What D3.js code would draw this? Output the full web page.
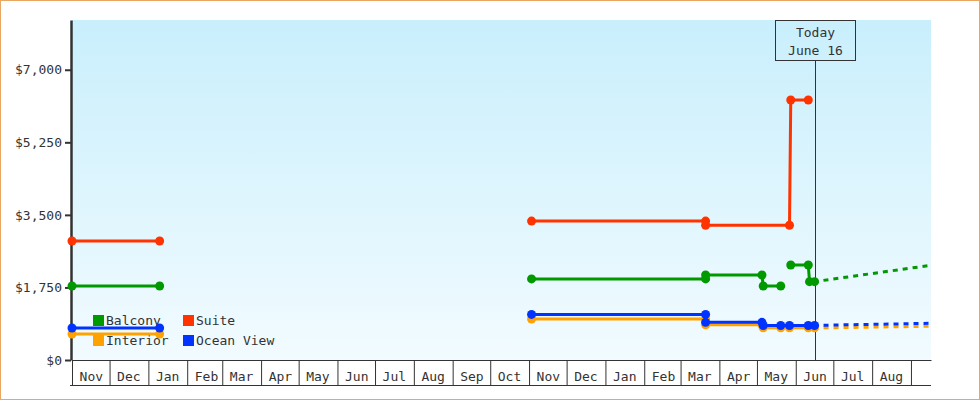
<!DOCTYPE html>
<html>

<head>
  <meta charset="utf-8">
  <script src="https://d3js.org/d3.v7.min.js"></script>

  <style>
    body {
      margin: 0;
      background: #fff;
    }

    text {
      font-family: "DejaVu Sans Mono", monospace;
      font-size: 13px;
      fill: #333;
    }

    .axis path,
    .axis line {
      stroke: #333;
    }

    .line {
      fill: none;
      stroke-width: 3;
    }

    .forecast {
      stroke-dasharray: 5, 5;
      stroke-dashoffset: 1;
    }
  </style>
</head>

<body>
  <script type="text/javascript">
    // series, legend order
    var seriesNames = ["Balcony", "Suite", "Interior", "Ocean View"];
    var seriesColors = ["#009900", "#ff3300", "#ffa200", "#0033ff"];
    // drawing order (later on top)
    var drawOrder = ["Suite", "Balcony", "Interior", "Ocean View"];

    // price history: [date, price], null = gap
    var balcony = [["2022-11-01", 1785], ["2023-01-10", 1785], null,
      ["2023-11-03", 1955], ["2024-03-21", 1955], ["2024-03-21", 2050], ["2024-05-05", 2050],
      ["2024-05-06", 1785], ["2024-05-20", 1785], null,
      ["2024-05-28", 2290], ["2024-06-11", 2290], ["2024-06-12", 1890], ["2024-06-16", 1890]];
    var suite = [["2022-11-01", 2870], ["2023-01-10", 2870], null,
      ["2023-11-03", 3350], ["2024-03-21", 3350], ["2024-03-21", 3250], ["2024-05-27", 3250],
      ["2024-05-28", 6270], ["2024-06-11", 6270]];
    var interior = [["2022-11-01", 627], ["2023-01-10", 627], null,
      ["2023-11-03", 989], ["2024-03-21", 989], ["2024-03-21", 851], ["2024-05-05", 851],
      ["2024-05-06", 775], ["2024-05-20", 775], ["2024-05-27", 775], ["2024-06-11", 775], ["2024-06-16", 775]];
    var oceanView = [["2022-11-01", 772], ["2023-01-10", 772], null,
      ["2023-11-03", 1100], ["2024-03-21", 1100], ["2024-03-21", 909], ["2024-05-05", 909],
      ["2024-05-06", 832], ["2024-05-20", 832], ["2024-05-27", 832], ["2024-06-11", 832], ["2024-06-16", 832]];

    // forecast after today
    var balconyForecast = [["2024-06-16", 1890], ["2024-09-17", 2285]];
    var suiteForecast = [];
    var interiorForecast = [["2024-06-16", 772], ["2024-09-17", 815]];
    var oceanViewForecast = [["2024-06-16", 835], ["2024-09-17", 885]];

    var monthTicks = ["2022-11", "2022-12", "2023-01", "2023-02", "2023-03", "2023-04", "2023-05",
      "2023-06", "2023-07", "2023-08", "2023-09", "2023-10", "2023-11", "2023-12", "2024-01",
      "2024-02", "2024-03", "2024-04", "2024-05", "2024-06", "2024-07", "2024-08"];
    var yTicks = [0, 1750, 3500, 5250, 7000];
    var todayDate = "2024-06-16";
    var todayLabel = ["Today", "June 16"];

    var priceHistory = {
      "Balcony": balcony, "Suite": suite, "Interior": interior, "Ocean View": oceanView
    };
    var priceForecast = {
      "Balcony": balconyForecast, "Suite": suiteForecast,
      "Interior": interiorForecast, "Ocean View": oceanViewForecast
    };

    var width = 980,
      height = 400;
    var plotLeft = 72,
      plotRight = 931,
      plotTop = 20,
      plotBottom = 360;

    var parseDay = d3.timeParse("%Y-%m-%d");
    var parseMonth = d3.timeParse("%Y-%m");

    var svg = d3.select("body")
      .append("svg")
      .attr("width", width)
      .attr("height", height);

    // outer frame
    svg.append("rect")
      .attr("x", 0.5).attr("y", 0.5)
      .attr("width", width - 1).attr("height", height - 1)
      .attr("fill", "#fff")
      .attr("stroke", "#e8a864");

    var grad = svg.append("defs").append("linearGradient")
      .attr("id", "bg").attr("x1", 0).attr("y1", 0).attr("x2", 0).attr("y2", 1);
    grad.append("stop").attr("offset", "0%").attr("stop-color", "#c9effc");
    grad.append("stop").attr("offset", "100%").attr("stop-color", "#f2fbff");

    var x = d3.scaleTime()
      .domain([parseDay("2022-11-01"), parseDay("2024-09-17")])
      .range([plotLeft, plotRight]);

    var y = d3.scaleLinear()
      .domain([0, 8200])
      .range([plotBottom, plotTop]);

    svg.append("rect")
      .attr("x", plotLeft).attr("y", plotTop)
      .attr("width", plotRight - plotLeft).attr("height", plotBottom - plotTop)
      .attr("fill", "url(#bg)");

    // x axis: month boxes
    var months = monthTicks.map(parseMonth);
    var bounds = months.concat([d3.timeMonth.offset(months[months.length - 1], 1)]);

    svg.append("g")
      .attr("class", "axis")
      .attr("transform", "translate(0," + plotBottom + ")")
      .call(d3.axisBottom(x).tickValues(bounds).tickSize(25).tickSizeOuter(0).tickFormat(""));

    svg.append("g")
      .attr("class", "axis")
      .attr("transform", "translate(0," + (plotBottom + 25) + ")")
      .call(d3.axisBottom(x).tickValues([]).tickSizeOuter(0))
      .select(".domain").attr("d", "M" + (plotLeft - 2) + ",0.5H" + plotRight);

    svg.append("g")
      .attr("class", "axis months")
      .attr("transform", "translate(0," + plotBottom + ")")
      .call(d3.axisBottom(x)
        .tickValues(months.map(function(m) { return d3.timeDay.offset(m, 15); }))
        .tickSize(0).tickPadding(12)
        .tickFormat(d3.timeFormat("%b")))
      .call(function(g) { g.select(".domain").remove(); });

    // y axis
    var yAxis = svg.append("g")
      .attr("class", "axis")
      .attr("transform", "translate(" + (plotLeft - 1) + ",0)")
      .call(d3.axisLeft(y).tickValues(yTicks).tickSize(6).tickSizeOuter(0)
        .tickFormat(d3.format("$,")));
    yAxis.select(".domain").attr("stroke-width", 2.5);
    yAxis.selectAll(".tick line").attr("stroke-width", 2);

    // legend (under lines)
    var legend = svg.append("g")
      .attr("class", "legend")
      .attr("transform", "translate(93,315)")
      .selectAll("g")
      .data(seriesNames)
      .enter().append("g")
      .attr("transform", function(d, i) {
        return "translate(" + (i % 2) * 90 + "," + Math.floor(i / 2) * 20 + ")";
      });

    legend.append("rect")
      .attr("width", 11).attr("height", 11)
      .attr("fill", function(d, i) { return seriesColors[i]; });

    legend.append("text")
      .attr("x", 13).attr("y", 10)
      .text(function(d) { return d; });

    // today marker
    var tx = Math.round(x(parseDay(todayDate))) + 0.5;
    svg.append("line")
      .attr("x1", tx).attr("x2", tx)
      .attr("y1", 60).attr("y2", plotBottom)
      .attr("stroke", "#333");
    svg.append("rect")
      .attr("x", tx - 40).attr("y", 20.5)
      .attr("width", 80).attr("height", 40)
      .attr("fill", "none")
      .attr("stroke", "#333");
    svg.append("g").selectAll("text")
      .data(todayLabel)
      .enter().append("text")
      .attr("x", tx)
      .attr("y", function(d, i) { return 37 + i * 18; })
      .attr("text-anchor", "middle")
      .text(function(d) { return d; });

    // lines
    var line = d3.line()
      .defined(function(d) { return d !== null; })
      .x(function(d) { return x(parseDay(d[0])); })
      .y(function(d) { return y(d[1]); });

    drawOrder.forEach(function(name) {
      var color = seriesColors[seriesNames.indexOf(name)];

      if (priceForecast[name].length) {
        svg.append("path")
          .attr("class", "line forecast")
          .attr("stroke", color)
          .attr("d", line(priceForecast[name]));
      }

      svg.append("path")
        .attr("class", "line")
        .attr("stroke", color)
        .attr("d", line(priceHistory[name]));

      svg.append("g")
        .selectAll("circle")
        .data(priceHistory[name].filter(function(d) { return d !== null; }))
        .enter().append("circle")
        .attr("cx", function(d) { return x(parseDay(d[0])); })
        .attr("cy", function(d) { return y(d[1]); })
        .attr("r", 4.5)
        .attr("fill", color);
    });
  </script>
</body>

</html>
